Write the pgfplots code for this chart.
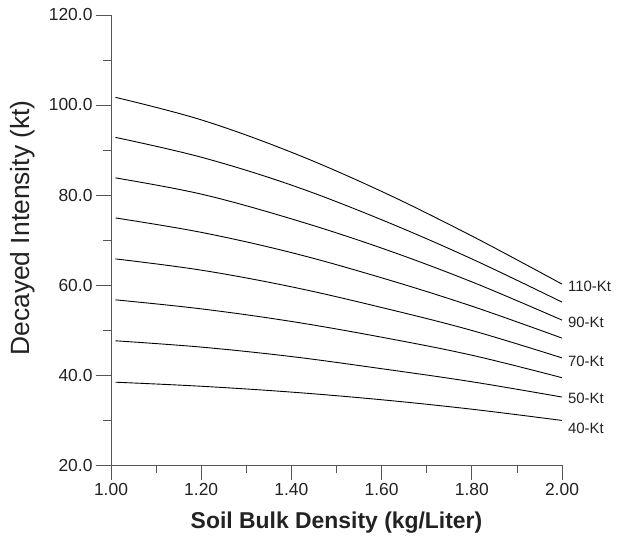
\documentclass[border=0pt]{standalone}
\usepackage{pgfplots}
\pgfplotsset{compat=1.18}
\usepackage{pgfplotstable}
\usepackage{fontspec}
\setmainfont{Liberation Sans}
\pgfplotstableread{
x     a110  a100  a90   a80   a70   a60   a50   a40
1.01  101.7 92.8  83.8  74.9  65.8  56.7  47.6  38.4
1.20  96.7  88.4  80.2  71.7  63.3  54.7  46.2  37.5
1.40  89.5  82.2  74.7  67.2  59.6  51.9  44.1  36.2
1.60  80.8  74.5  68.2  61.6  55.0  48.4  41.4  34.5
1.80  70.9  65.8  60.7  55.3  49.9  44.4  38.5  32.4
2.00  60.2  56.2  52.2  48.2  43.8  39.4  35.1  29.9
}\curves
\definecolor{axgray}{HTML}{555555}
\definecolor{txt}{HTML}{222222}
\tikzset{crv/.style={black, solid, line width=0.9bp, smooth, tension=0.6, mark=none}}
\begin{document}
\begin{tikzpicture}
\begin{axis}[
  name=ax, at={(0,0)}, anchor=south west,
  scale only axis, width=451bp, height=450bp,
  xmin=1, xmax=2, ymin=20, ymax=120,
  axis x line=bottom, axis y line=left,
  axis line style={-, draw=axgray, line width=0.8bp},
  xtick={1,1.2,1.4,1.6,1.8,2}, minor xtick={1.1,1.3,1.5,1.7,1.9},
  ytick={20,40,60,80,100,120}, minor ytick={30,50,70,90,110},
  tick align=outside, major tick length=15bp, minor tick length=8bp,
  every tick/.style={draw=axgray, line width=0.8bp},
  /pgf/number format/assume math mode=true,
  xticklabel style={/pgf/number format/.cd, fixed, fixed zerofill, precision=2},
  yticklabel style={/pgf/number format/.cd, fixed, fixed zerofill, precision=1},
  ticklabel style={font=\fontsize{17.5}{17.5}\selectfont, text=txt},
  xlabel={\textbf{Soil Bulk Density (kg/Liter)}},
  ylabel={Decayed Intensity (kt)},
  xlabel style={at={(axis description cs:0.5,-0.127)}, anchor=center, font=\fontsize{23}{23}\selectfont, text=txt},
  ylabel style={at={(axis description cs:-0.195,0.527)}, anchor=center, font=\fontsize{26.5}{26.5}\selectfont, text=txt},
  clip=false,
]
\addplot[crv] table[x=x, y=a110] {\curves};
\addplot[crv] table[x=x, y=a100] {\curves};
\addplot[crv] table[x=x, y=a90] {\curves};
\addplot[crv] table[x=x, y=a80] {\curves};
\addplot[crv] table[x=x, y=a70] {\curves};
\addplot[crv] table[x=x, y=a60] {\curves};
\addplot[crv] table[x=x, y=a50] {\curves};
\addplot[crv] table[x=x, y=a40] {\curves};
\begin{scope}[every node/.style={anchor=west, font=\fontsize{15}{15}\selectfont, text=txt, inner sep=0pt}]
\node at (axis cs:2.013,59.8) {110-Kt};
\node at (axis cs:2.013,51.6) {90-Kt};
\node at (axis cs:2.013,43.1) {70-Kt};
\node at (axis cs:2.013,34.7) {50-Kt};
\node at (axis cs:2.013,28.2) {40-Kt};
\end{scope}
\end{axis}
\path[use as bounding box] ([xshift=-111bp,yshift=-76bp]ax.south west) rectangle ([xshift=58bp,yshift=15bp]ax.north east);
\end{tikzpicture}
\end{document}
